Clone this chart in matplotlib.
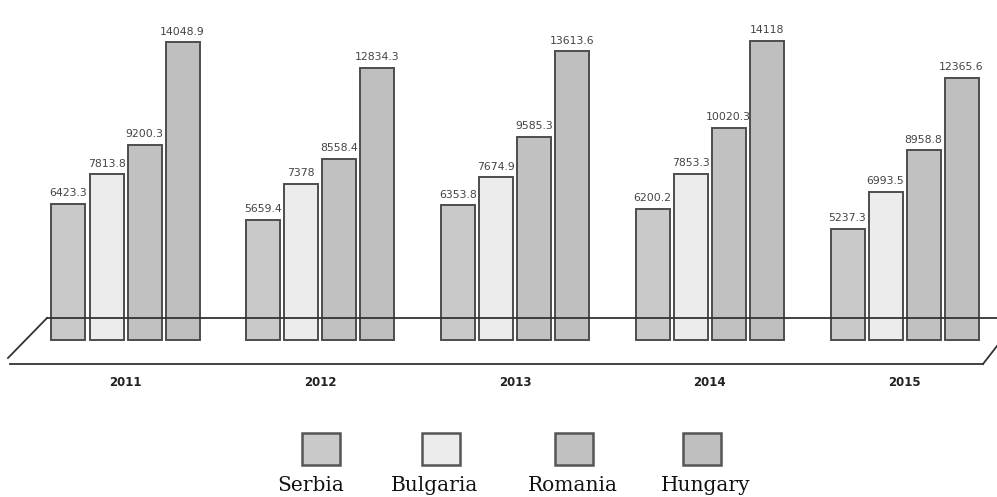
import matplotlib
matplotlib.use("Agg")
import matplotlib.pyplot as plt
from matplotlib.patches import Rectangle
from matplotlib.lines import Line2D
import numpy as np

# Data
years = ["2011", "2012", "2013", "2014", "2015"]
countries = ["Serbia", "Bulgaria", "Romania", "Hungary"]
serbia = [6423.3, 5659.4, 6353.8, 6200.2, 5237.3]
bulgaria = [7813.8, 7378, 7674.9, 7853.3, 6993.5]
romania = [9200.3, 8558.4, 9585.3, 10020.3, 8958.8]
hungary = [14048.9, 12834.3, 13613.6, 14118, 12365.6]
value_labels = [
    ["6423.3", "5659.4", "6353.8", "6200.2", "5237.3"],
    ["7813.8", "7378", "7674.9", "7853.3", "6993.5"],
    ["9200.3", "8558.4", "9585.3", "10020.3", "8958.8"],
    ["14048.9", "12834.3", "13613.6", "14118", "12365.6"],
]

series = [serbia, bulgaria, romania, hungary]
colors = ["#c9c9c9", "#ececec", "#c1c1c1", "#bfbfbf"]
edge = "#4d4d4d"

W, H = 997, 497
fig = plt.figure(figsize=(W / 100, H / 100), dpi=100)
fig.patch.set_facecolor("white")
ax = fig.add_axes([0, 0, 1, 1])
ax.set_axis_off()

# Scales: group spacing ~195 px, value scale ~0.0212 px per unit, zero at y=340 px
group_px = 194.75
first_px = 125.5
ax.set_xlim(-first_px / group_px, (W - first_px) / group_px)
units_per_px = 1 / 0.0212
ax.set_ylim(-(H - 340) * units_per_px, 340 * units_per_px)


def fpx(x, y):
    return x / W, 1 - y / H


# Floor of the chart (back edge, front edge and sides)
floor = [
    [(47, 318), (997, 318)],
    [(8, 358), (47, 318)],
    [(10, 364), (983, 364)],
    [(983, 364), (997, 346)],
]
for seg in floor:
    (x0, y0), (x1, y1) = seg
    a = fpx(x0, y0)
    b = fpx(x1, y1)
    fig.add_artist(Line2D([a[0], b[0]], [a[1], b[1]], color="#333333",
                          lw=1.3, transform=fig.transFigure, zorder=1))

x = np.arange(len(years))
pitch = 38 / group_px
width = 34 / group_px
for k, (vals, col) in enumerate(zip(series, colors)):
    pos = x + (k - 1.5) * pitch
    ax.bar(pos, vals, width=width, color=col, edgecolor=edge,
           linewidth=1.4, zorder=3)
    for p, v, lab in zip(pos, vals, value_labels[k]):
        ax.annotate(lab, (p, v), xytext=(0, 4), textcoords="offset points",
                    ha="center", va="bottom", fontsize=7.8, color="#444444",
                    family="DejaVu Sans", zorder=4)

# Year labels under each group
for xi, yr in zip(x, years):
    ax.text(xi, -(383 - 340) * units_per_px, yr, ha="center", va="center",
            fontsize=8.5, fontweight="bold", color="#222222",
            family="DejaVu Sans")

# Legend: swatch above each name
box_cx = [321, 441, 574, 702]
label_cx = [311, 435, 573, 706]
box_w, box_h = 38, 32
for name, col, bx, lx in zip(countries, colors, box_cx, label_cx):
    x0, y0 = fpx(bx - box_w / 2, 449 + box_h / 2)
    fig.add_artist(Rectangle((x0, y0), box_w / W, box_h / H,
                             transform=fig.transFigure, facecolor=col,
                             edgecolor="#555555", lw=1.8))
    tx, ty = fpx(lx, 495)
    fig.text(tx, ty, name, ha="center", va="bottom", fontsize=14.5,
             family="DejaVu Serif", color="#111111")

fig.savefig("out.png", dpi=100)
